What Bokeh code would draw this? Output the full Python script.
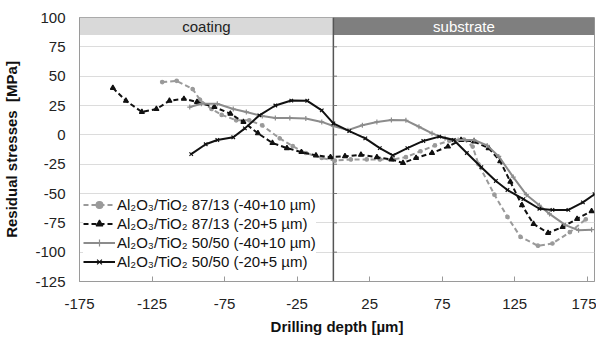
from bokeh.plotting import figure
from bokeh.models import Range1d, FixedTicker, Legend, ColumnDataSource
from bokeh.core.properties import value
from bokeh.embed import file_html
from bokeh.resources import INLINE

# ---------------- data ----------------
x_ticks = [-175, -125, -75, -25, 25, 75, 125, 175]
y_ticks = [-125, -100, -75, -50, -25, 0, 25, 50, 75, 100]

band_labels = ["coating", "substrate"]
band_left = [-175, 0]
band_right = [0, 180]
band_bottom = 85
band_top = 100

names = [
    "Al\u2082O\u2083/TiO\u2082 87/13 (-40+10 \u00b5m)",
    "Al\u2082O\u2083/TiO\u2082 87/13 (-20+5 \u00b5m)",
    "Al\u2082O\u2083/TiO\u2082 50/50 (-40+10 \u00b5m)",
    "Al\u2082O\u2083/TiO\u2082 50/50 (-20+5 \u00b5m)",
]

a_x = [-118, -108, -97, -92, -84, -77, -67, -58, -49, -37, -28, -19, -8, 1, 12, 23, 32, 41,
       50, 60, 70, 80, 90, 96, 100, 111, 120, 129, 141, 151, 163, 174]
a_y = [45, 46, 39, 30, 22, 17, 12.4, 12.4, 8, -3, -9.7, -15.5, -19.7, -22, -21, -21, -21, -21,
       -19, -14, -9, -5, -4, -10, -25, -51, -70, -87, -94.5, -92.6, -83, -72]

b_x = [-152, -143, -132, -122, -113, -103, -94, -82, -71, -62, -52, -42, -32, -22, -12, -2,
       8, 19, 30, 40, 48, 57, 68, 79, 88, 97, 107, 115, 122, 130, 138, 148, 158, 168, 178]
b_y = [40, 29, 19.5, 22, 29, 30.7, 28, 23.7, 18, 11, 1.3, -7, -11.3, -14.7, -17.5, -19,
       -18.3, -17, -19, -21, -24, -19.7, -15.5, -10, -4.4, -5.7, -11.3, -22.5, -40, -60, -76, -83.6, -78.6, -71.6, -65]

c_x = [-99, -91, -80, -69, -60, -49, -40, -30, -19, -8, 0, 10, 20, 30, 40, 50, 59, 68, 77, 86,
       97, 106, 114, 124, 133, 142, 149, 160, 169, 178]
c_y = [23.7, 26.5, 26.5, 22, 19.5, 16, 14.4, 14.4, 13.9, 11, 7.5, 4, 8.2, 11, 12.7, 12.4, 6.9, 1.3, -3, -4.4,
       -4.4, -9, -18.4, -36, -51, -60, -67.4, -77, -81.3, -80.8]

d_x = [-98, -88, -80, -69, -61, -51, -40, -29, -18, -8, 0, 11, 22, 32, 41, 51, 62, 73, 83, 92,
       102, 112, 120, 131, 142, 151, 162, 172, 180]
d_y = [-16.4, -8, -4.4, -2.1, 5.5, 16.6, 25, 29.2, 29, 20.8, 9.7, 3.2, -3, -11.3, -17.5, -11.3, -5.2, -1.5, -4.4, -15.5,
       -27.6, -39.3, -47, -54.8, -63, -64, -64, -57.6, -50.6]

series = [
    (names[0], a_x, a_y, "#9a9a9a", "5 3", "circle", 3.5),
    (names[1], b_x, b_y, "#111111", "5 3", "triangle", 5),
    (names[2], c_x, c_y, "#8c8c8c", "solid", "cross", 5),
    (names[3], d_x, d_y, "#111111", "solid", "x", 5),
]

FONT = "Liberation Sans"

p = figure(width=596, height=337, output_backend="svg", toolbar_location=None,
           x_range=Range1d(-175, 180), y_range=Range1d(-125, 100),
           min_border_left=68, min_border_right=2, min_border_top=17, min_border_bottom=52)
p.background_fill_color = "white"
p.border_fill_color = "white"
p.outline_line_color = "#9a9a9a"
p.outline_line_width = 1

p.xgrid.grid_line_color = None
p.ygrid.grid_line_color = "#dcdcdc"
p.ygrid.grid_line_width = 1
p.ygrid.ticker = FixedTicker(ticks=y_ticks)

p.xaxis.ticker = FixedTicker(ticks=x_ticks)
p.yaxis.ticker = FixedTicker(ticks=y_ticks)
p.xaxis.major_label_overrides = {t: str(t) for t in x_ticks}
p.yaxis.major_label_overrides = {t: str(t) for t in y_ticks}
for ax in (p.xaxis[0], p.yaxis[0]):
    ax.axis_line_color = "#9a9a9a"
    ax.major_tick_line_color = "#9a9a9a"
    ax.minor_tick_line_color = None
    ax.major_label_text_font = FONT
    ax.major_label_text_font_size = "15px"
    ax.major_label_text_color = "#222222"
    ax.axis_label_text_font = FONT
    ax.axis_label_text_font_size = "15px"
    ax.axis_label_text_font_style = "bold"
    ax.axis_label_text_color = "#111111"

p.xaxis.major_tick_in = 5
p.xaxis.major_tick_out = 0
p.yaxis.major_tick_in = 0
p.yaxis.major_tick_out = 0
p.xaxis.major_label_standoff = 17
p.yaxis.major_label_standoff = 14
p.xaxis.axis_label = "Drilling depth [\u00b5m]"
p.yaxis.axis_label = "Residual stresses\u00a0 [MPa]"
p.xaxis.axis_label_standoff = 6
p.yaxis.axis_label_standoff = 12

# header bands
band_src = ColumnDataSource(dict(left=band_left, right=band_right,
                                 color=["#d9d9d9", "#7f7f7f"],
                                 tcolor=["#222222", "#ffffff"],
                                 xc=[(l + r) / 2 for l, r in zip(band_left, band_right)],
                                 label=band_labels))
p.quad(left="left", right="right", bottom=band_bottom, top=band_top, fill_color="color",
       line_color=None, source=band_src)
p.text(x="xc", y=(band_bottom + band_top) / 2, text="label", text_color="tcolor",
       text_font=value(FONT), text_font_size="15px", text_align="center",
       text_baseline="middle", source=band_src)

# divider at depth 0 with small ticks
p.segment(x0=0, y0=-125, x1=0, y1=100, line_color="#555555", line_width=1.5)
inner = [t for t in y_ticks if -125 < t < 100]
p.segment(x0=[0] * len(inner), y0=inner, x1=[2.5] * len(inner), y1=inner,
          line_color="#777777", line_width=1)

legend_items = []
for name, xs, ys, col, dash, marker, size in series:
    r1 = p.line(xs, ys, line_color=col, line_width=2, line_dash=dash)
    r2 = p.scatter(xs, ys, marker=marker, size=size, line_color=col, fill_color=col, line_width=1.2)
    legend_items.append((name, [r1, r2]))

legend = Legend(items=legend_items, location=(4, 11))
legend.label_text_font = FONT
legend.label_text_font_size = "15px"
legend.label_text_color = "#111111"
legend.border_line_color = None
legend.background_fill_color = "white"
legend.background_fill_alpha = 1
legend.glyph_width = 32
legend.glyph_height = 17
legend.label_height = 17
legend.spacing = 2
legend.padding = 3
legend.margin = 0
legend.label_standoff = 2
p.add_layout(legend)

open("out.html", "w").write(file_html(p, INLINE))
